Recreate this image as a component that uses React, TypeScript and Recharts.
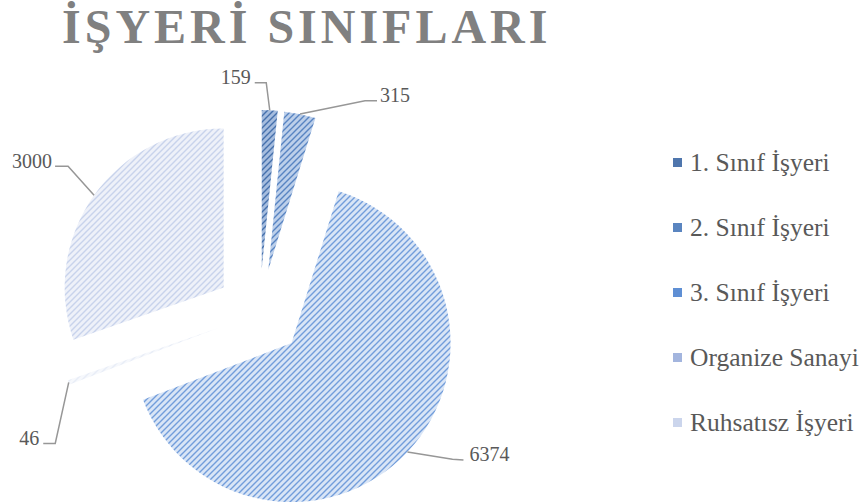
import React from 'react';
import { PieChart, Pie, Cell, Legend } from 'recharts';

const categories = ['1. Sınıf İşyeri', '2. Sınıf İşyeri', '3. Sınıf İşyeri', 'Organize Sanayi', 'Ruhsatısz İşyeri'];
const values = [159, 315, 6374, 46, 3000];
const title = 'İŞYERİ SINIFLARI';

const legendColors = ['#4f76ad', '#5a85c0', '#5f8fd4', '#a3b5de', '#cbd5ec'];
const patternBg = ['#a5bcde', '#bccfea', '#d9e5f6', '#f6f8fc', '#eef1f9'];
const patternFg = ['#4570ac', '#5884c2', '#729ddb', '#e8edf7', '#c8d3ec'];

// label leader layout relative to slice edge point (styling/layout only)
const labelLayout = [
  { ex: -3.5, ey: -27.5, lx: -15, ly: -27.5, anchor: 'end', gap: 4 },
  { ex: 65, ey: -13.3, lx: 77, ly: -13.3, anchor: 'start', gap: 3 },
  { ex: 45, ey: 7.3, lx: 56, ly: 8, anchor: 'start', gap: 6 },
  { ex: -13.5, ey: 61, lx: -25.5, ly: 61, anchor: 'end', gap: 4 },
  { ex: -26, ey: -29, lx: -39, ly: -29, anchor: 'end', gap: 3 },
];

const data = categories.map((name, i) => ({ name, value: values[i] }));

const W = 861;
const H = 504;
const CX = 259.5;
const CY = 313;
const R = 159;
const EXPLODE = 44;
const START = 90;
const END = -270;
const RAD = Math.PI / 180;

const total = values.reduce((a, b) => a + b, 0);
const midAngles = values.map((v, i) => {
  const before = values.slice(0, i).reduce((a, b) => a + b, 0);
  return START - ((before + v / 2) / total) * (START - END);
});

const FONT = '"Liberation Serif", "DejaVu Serif", serif';

const makeLabel = (idx: number) => (props: any) => {
  if (props.index !== idx) return null;
  const { cx, cy, midAngle, outerRadius, value } = props;
  const sx = cx + outerRadius * Math.cos(-midAngle * RAD);
  const sy = cy + outerRadius * Math.sin(-midAngle * RAD);
  const L = labelLayout[idx];
  const ex = sx + L.ex;
  const ey = sy + L.ey;
  const lx = sx + L.lx;
  const ly = sy + L.ly;
  const tx = L.anchor === 'end' ? lx - L.gap : lx + L.gap;
  return (
    <g>
      <polyline points={`${sx},${sy} ${ex},${ey} ${lx},${ly}`} fill="none" stroke="#979797" strokeWidth={1.5} />
      <text x={tx} y={ly + 1.5} textAnchor={L.anchor} fill="#595959" fontSize={20} fontFamily={FONT}>
        {value}
      </text>
    </g>
  );
};

const LegendContent = () => (
  <div style={{ fontFamily: FONT }}>
    {categories.map((c, i) => (
      <div key={c} style={{ height: 65, display: 'flex', alignItems: 'center' }}>
        <div style={{ width: 9, height: 9, background: legendColors[i], marginRight: 8, flexShrink: 0 }} />
        <span style={{ fontSize: 25.5, color: '#595959', whiteSpace: 'nowrap', lineHeight: '26px' }}>{c}</span>
      </div>
    ))}
  </div>
);

export default function App() {
  return (
    <div style={{ position: 'absolute', left: 0, top: 0, width: W, height: H, background: '#fff' }}>
      <PieChart width={W} height={H} margin={{ top: 0, right: 0, bottom: 0, left: 0 }}>
        <defs>
          {patternBg.map((bg, i) => (
            <pattern key={i} id={`pat${i}`} patternUnits="userSpaceOnUse" width={6} height={6}>
              <rect width={6} height={6} fill={bg} />
              <path d="M-1,1 L1,-1 M0,6 L6,0 M5,7 L7,5" stroke={patternFg[i]} strokeWidth={1.4} />
            </pattern>
          ))}
        </defs>
        <text x={62} y={43} fontSize={48} fontWeight="bold" letterSpacing={4} fill="#808080" fontFamily={FONT}>
          {title}
        </text>
        {values.map((_, idx) => (
          <Pie
            key={idx}
            data={data}
            dataKey="value"
            nameKey="name"
            cx={CX + EXPLODE * Math.cos(midAngles[idx] * RAD)}
            cy={CY - EXPLODE * Math.sin(midAngles[idx] * RAD)}
            outerRadius={R}
            innerRadius={0}
            startAngle={START}
            endAngle={END}
            stroke="none"
            isAnimationActive={false}
            labelLine={false}
            label={makeLabel(idx)}
          >
            {data.map((d, i) => (
              <Cell key={d.name} fill={i === idx ? `url(#pat${i})` : 'none'} stroke="none" />
            ))}
          </Pie>
        ))}
        <Legend
          layout="vertical"
          align="right"
          verticalAlign="top"
          content={<LegendContent />}
          wrapperStyle={{ top: 130, left: 673, right: 'auto', width: 188 }}
        />
      </PieChart>
    </div>
  );
}
